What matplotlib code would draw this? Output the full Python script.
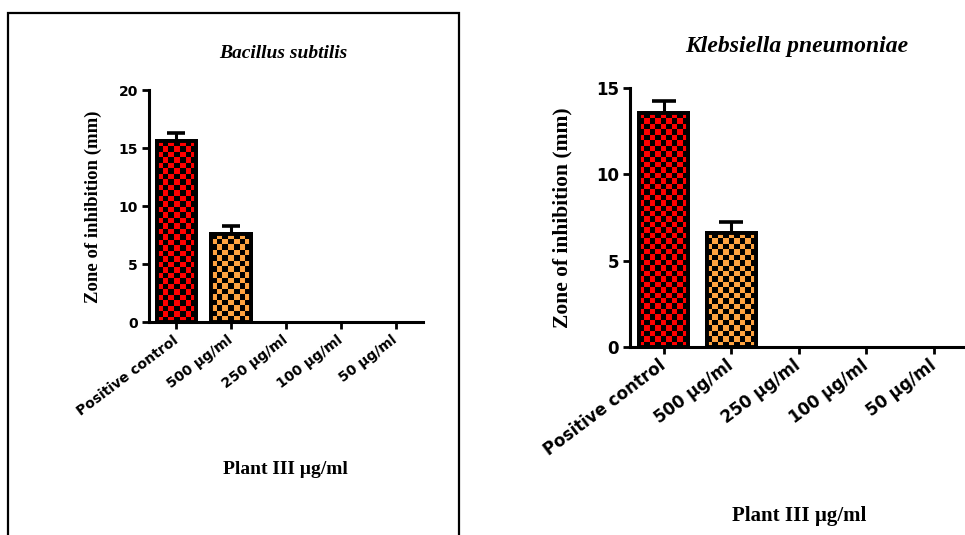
import numpy as np
import matplotlib
matplotlib.use("Agg")
import matplotlib.pyplot as plt
from matplotlib.colors import ListedColormap
from matplotlib.patches import Rectangle

# ---- data ----
categories = ["Positive control", "500 µg/ml", "250 µg/ml", "100 µg/ml", "50 µg/ml"]
bacillus_values = [15.6, 7.6, 0, 0, 0]
bacillus_errors = [0.65, 0.65, 0, 0, 0]
klebsiella_values = [13.55, 6.6, 0, 0, 0]
klebsiella_errors = [0.7, 0.65, 0, 0, 0]
bar_colors = ["#ff0000", "#ffa340", "#ffa340", "#ffa340", "#ffa340"]
bacillus_yticks = [0, 5, 10, 15, 20]
klebsiella_yticks = [0, 5, 10, 15]

W, H = 965, 535
fig = plt.figure(figsize=(W / 100, H / 100), dpi=100)


def fx(px):
    return px / W


def fy(py):
    return 1 - py / H


def panel(rect_px, values, errors, yticks, title, title_xy, title_size,
          ylabel_xy, ylabel_size, xlabel_xy, xlabel_size, tick_size, capsize):
    x0, ytop, x1, ybot = rect_px
    ax = fig.add_axes([fx(x0), fy(ybot), fx(x1 - x0), fy(ytop) - fy(ybot)])
    x = np.arange(len(categories))
    vals = np.asarray(values, dtype=float)
    errs = np.asarray(errors, dtype=float)
    lw = [2.8 if v > 0 else 0 for v in vals]
    bars = ax.bar(x, vals, width=0.72, color=bar_colors, edgecolor="black",
                  linewidth=lw, zorder=2)
    ax.set_xlim(-0.5, 4.5)
    ax.set_ylim(yticks[0], yticks[-1])
    # checkerboard fill clipped to bars
    cell = 5.5
    for b, c in zip(bars, bar_colors):
        h = b.get_height()
        if h <= 0:
            continue
        bx0 = b.get_x()
        bx1 = bx0 + b.get_width()
        p0 = ax.transData.transform((bx0, 0))
        p1 = ax.transData.transform((bx1, h))
        nx = max(1, int(round((p1[0] - p0[0]) / cell)))
        ny = max(1, int(round((p1[1] - p0[1]) / cell)))
        ii, jj = np.meshgrid(np.arange(nx), np.arange(ny))
        board = (ii + jj) % 2
        im = ax.imshow(board, cmap=ListedColormap([c, "black"]),
                       extent=(bx0, bx1, 0, h), aspect="auto",
                       interpolation="nearest", zorder=2.5, origin="lower")
        im.set_clip_path(b)
    ax.bar(x, vals, width=0.72, fill=False, edgecolor="black",
           linewidth=lw, zorder=3)
    m = vals > 0
    ax.errorbar(x[m], vals[m], yerr=[np.zeros(m.sum()), errs[m]], fmt="none",
                ecolor="black", elinewidth=2.2, capsize=capsize, capthick=2.6,
                zorder=1.5)
    ax.set_xlim(-0.5, 4.5)
    ax.set_ylim(yticks[0], yticks[-1])
    ax.set_aspect("auto")
    ax.set_yticks(yticks)
    ax.set_xticks(x)
    ax.set_xticklabels(categories, rotation=37, ha="right", va="center",
                       rotation_mode="anchor")
    for lab in ax.get_xticklabels() + ax.get_yticklabels():
        lab.set_fontfamily("DejaVu Sans")
        lab.set_fontweight("bold")
        lab.set_fontsize(tick_size)
    for s in ["top", "right"]:
        ax.spines[s].set_visible(False)
    for s in ["left", "bottom"]:
        ax.spines[s].set_linewidth(2.2)
    ax.tick_params(axis="both", direction="out", length=5, width=2.0,
                   color="black", pad=3)
    ax.tick_params(axis="x", pad=7)
    ax.patch.set_visible(False)
    fig.text(fx(title_xy[0]), fy(title_xy[1]), title, ha="center", va="center",
             fontfamily="Liberation Serif", fontweight="bold", fontstyle="italic",
             fontsize=title_size)
    fig.text(fx(ylabel_xy[0]), fy(ylabel_xy[1]), "Zone of inhibition (mm)",
             ha="center", va="center", rotation=90,
             fontfamily="Liberation Serif", fontweight="bold", fontsize=ylabel_size)
    fig.text(fx(xlabel_xy[0]), fy(xlabel_xy[1]), "Plant III µg/ml",
             ha="center", va="center",
             fontfamily="Liberation Serif", fontweight="bold", fontsize=xlabel_size)
    return ax


panel((149, 90, 423, 322), bacillus_values, bacillus_errors, bacillus_yticks,
      "Bacillus subtilis", (283, 53), 14, (93, 207), 13.5, (285, 470), 14,
      10, 6.5)
panel((630, 88, 967.5, 347), klebsiella_values, klebsiella_errors,
      klebsiella_yticks, "Klebsiella pneumoniae", (797, 47), 17,
      (562, 218), 15.5, (799, 516), 15, 12, 8.3)

# border around left panel
fig.add_artist(Rectangle((fx(8), fy(560)), fx(459 - 8), fy(13) - fy(560),
                         transform=fig.transFigure, fill=False,
                         edgecolor="black", linewidth=1.6, clip_on=False))

fig.savefig("out.png", dpi=100)
